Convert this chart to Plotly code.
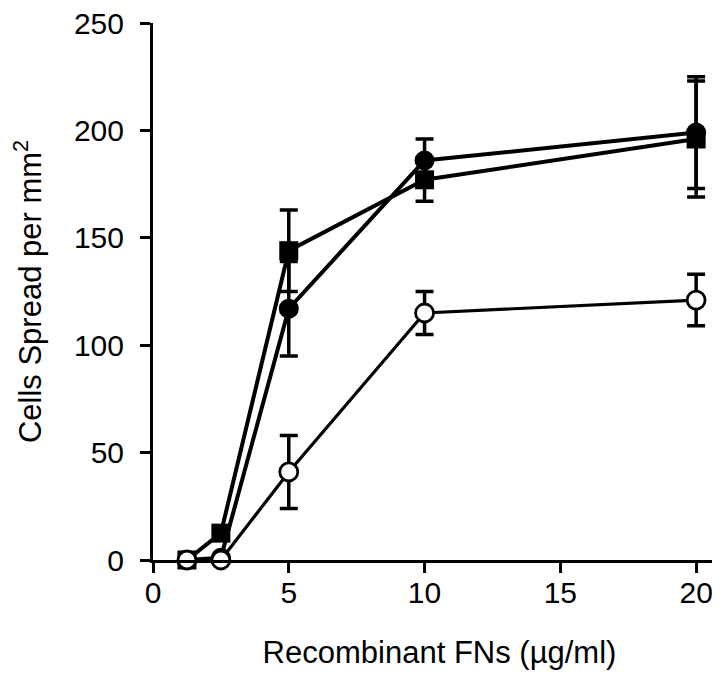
import plotly.graph_objects as go

# Data
conc = [1.25, 2.5, 5, 10, 20]  # Recombinant FNs (µg/ml)

filled_circle = [0, 1, 117, 186, 199]
filled_circle_err = [0, 0, 22, 10, 26]

filled_square = [0, 12.5, 144, 177, 196]
filled_square_err = [0, 0, 19, 10, 27]

open_circle = [0, 0, 41, 115, 121]
open_circle_err = [0, 0, 17, 10, 12]

x_ticks = [0, 5, 10, 15, 20]
y_ticks = [0, 50, 100, 150, 200, 250]

FONT = "Liberation Sans, Arial, Helvetica, sans-serif"
BLACK = "#000000"

fig = go.Figure()

def err(arr):
    return dict(type="data", array=arr, visible=True, color=BLACK, thickness=3.5, width=9)

fig.add_trace(go.Scatter(
    x=conc, y=filled_square, mode="lines+markers", name="Filled squares",
    line=dict(color=BLACK, width=4),
    marker=dict(symbol="square", size=19, color=BLACK),
    error_y=err(filled_square_err), cliponaxis=False,
))
fig.add_trace(go.Scatter(
    x=conc, y=filled_circle, mode="lines+markers", name="Filled circles",
    line=dict(color=BLACK, width=4),
    marker=dict(symbol="circle", size=20, color=BLACK),
    error_y=err(filled_circle_err), cliponaxis=False,
))
fig.add_trace(go.Scatter(
    x=conc, y=open_circle, mode="lines+markers", name="Open circles",
    line=dict(color=BLACK, width=3.2),
    marker=dict(symbol="circle", size=18, color="white", line=dict(color=BLACK, width=2.8)),
    error_y=err(open_circle_err), cliponaxis=False,
))

axis_common = dict(
    showline=True, linecolor=BLACK, linewidth=3,
    ticks="outside", ticklen=10, tickwidth=3, tickcolor=BLACK,
    showgrid=False, zeroline=False, automargin=False,
    ticklabeloverflow="allow",
    tickfont=dict(family=FONT, size=30, color=BLACK),
)

fig.update_layout(
    width=720, height=674,
    margin=dict(l=145, r=2, t=15, b=122),
    plot_bgcolor="white", paper_bgcolor="white",
    showlegend=False,
    font=dict(family=FONT, color=BLACK),
    xaxis=dict(
        range=[0, 21.1], tickvals=x_ticks, ticktext=[str(v) for v in x_ticks],
        title=dict(text="Recombinant FNs (µg/ml)", font=dict(family=FONT, size=31, color=BLACK), standoff=34),
        ticklabelstandoff=-6,
        **axis_common,
    ),
    yaxis=dict(
        range=[0, 250], tickvals=y_ticks, ticktext=[str(v) for v in y_ticks],
        title=dict(text="Cells Spread per mm<sup>2</sup>", font=dict(family=FONT, size=31, color=BLACK), standoff=25),
        ticklabelstandoff=10,
        **axis_common,
    ),
)

fig.write_html("out.html")
